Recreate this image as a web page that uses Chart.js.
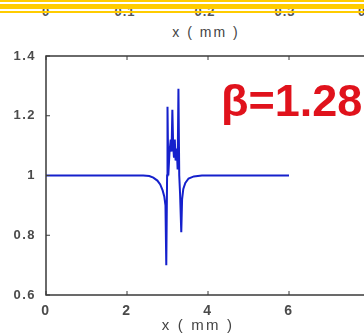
<!DOCTYPE html>
<html>
<head>
<meta charset="utf-8">
<script src="https://cdn.jsdelivr.net/npm/chart.js@4"></script>
<style>
  html, body { margin: 0; padding: 0; background: #fff; overflow: hidden; }
  body { width: 364px; height: 334px; position: relative; font-family: "Liberation Sans", Arial, sans-serif; }
  .top-tick { position: absolute; top: 4px; font-size: 13px; font-weight: bold; letter-spacing: 1px; color: #555; transform: translateX(-50%); }
  .band { position: absolute; left: 0; width: 364px; background: #ffcc00; }
  .titulo { position: absolute; transform: translateX(-50%); color: #444; white-space: nowrap; }
  #top-title { top: 24px; left: 206px; font-size: 14px; letter-spacing: 2px; }
  #bottom-title { top: 316px; left: 198px; font-size: 15px; letter-spacing: 2.2px; }
  #beta { position: absolute; left: 221px; top: 75px; font-size: 45px; font-weight: bold; color: #e0121c; white-space: nowrap; }
  #wrap { position: absolute; left: 0; top: 40px; width: 390px; height: 294px; }
</style>
</head>
<body>
<!-- bits of the plot above, mostly hidden behind the yellow bands -->
<span class="top-tick" style="left:46px">0</span>
<span class="top-tick" style="left:125px">0.1</span>
<span class="top-tick" style="left:205px">0.2</span>
<span class="top-tick" style="left:285px">0.3</span>
<span class="top-tick" style="left:362px">0</span>
<div class="band" style="top:0;height:2px"></div>
<div class="band" style="top:4px;height:5px"></div>
<div class="band" style="top:11px;height:2px"></div>
<div class="titulo" id="top-title">x ( mm )</div>

<div id="wrap"><canvas id="grafico"></canvas></div>
<div class="titulo" id="bottom-title">x ( mm )</div>
<div id="beta">β=1.28</div>

<script>
// valores
const xVals = [0, 2.4, 2.55, 2.65, 2.75, 2.82, 2.88, 2.92, 2.95, 2.97, 2.99, 3.0, 3.02, 3.05, 3.08, 3.1, 3.12, 3.14, 3.16, 3.18, 3.2, 3.23, 3.25, 3.27, 3.29, 3.31, 3.34, 3.36, 3.39, 3.44, 3.52, 3.65, 3.85, 6];
const yVals = [1.0, 1.0, 0.998, 0.993, 0.983, 0.97, 0.95, 0.93, 0.9, 0.7, 1.0, 1.23, 1.0, 1.08, 1.12, 1.08, 1.22, 1.1, 1.06, 1.12, 1.05, 1.09, 1.02, 1.29, 1.0, 0.94, 0.81, 0.92, 0.955, 0.975, 0.99, 0.997, 1.0, 1.0];
const xTicks = [0, 2, 4, 6, 8];
const yTicks = [0.6, 0.8, 1, 1.2, 1.4];

const pontos = xVals.map((x, i) => ({ x, y: yVals[i] }));

// moldura + ticks para dentro (estilo matlab)
const boxPlugin = {
  id: 'box',
  beforeDraw(c) {
    c.ctx.letterSpacing = '1.5px'; // labels mais espaçados como no original
  },
  afterDraw(c) {
    const { ctx, chartArea: a, scales } = c;
    ctx.save();
    ctx.strokeStyle = '#3a3a3a';
    ctx.lineWidth = 1.5;
    ctx.strokeRect(a.left, a.top, a.right - a.left, a.bottom - a.top);
    ctx.lineWidth = 1;
    ctx.beginPath();
    xTicks.forEach(v => {
      const px = scales.x.getPixelForValue(v);
      ctx.moveTo(px, a.bottom); ctx.lineTo(px, a.bottom - 4);
      ctx.moveTo(px, a.top); ctx.lineTo(px, a.top + 4);
    });
    yTicks.forEach(v => {
      const py = scales.y.getPixelForValue(v);
      ctx.moveTo(a.left, py); ctx.lineTo(a.left + 4, py);
    });
    ctx.stroke();
    ctx.restore();
    ctx.letterSpacing = '0px';
  }
};

const ctx = document.getElementById('grafico').getContext('2d');
new Chart(ctx, {
  type: 'line',
  data: {
    datasets: [{
      data: pontos,
      borderColor: '#1520cc',
      borderWidth: 2,
      pointRadius: 0,
      tension: 0,
      fill: false
    }]
  },
  options: {
    responsive: true,
    maintainAspectRatio: false,
    animation: false,
    layout: { padding: { top: 16, right: 20, left: 0, bottom: 0 } },
    plugins: { legend: { display: false }, tooltip: { enabled: false } },
    scales: {
      x: {
        type: 'linear',
        min: 0, max: 8,
        afterBuildTicks: s => { s.ticks = xTicks.map(v => ({ value: v })); },
        afterFit: s => { s.height = 39; },
        grid: { display: false },
        border: { display: false },
        ticks: { color: '#4a4a4a', padding: 0, font: { family: 'Liberation Sans', size: 14, weight: 'bold' }, maxRotation: 0 }
      },
      y: {
        min: 0.6, max: 1.4,
        afterBuildTicks: s => { s.ticks = yTicks.map(v => ({ value: v })); },
        afterFit: s => { s.width = 46; },
        grid: { display: false },
        border: { display: false },
        ticks: {
          color: '#4a4a4a', padding: 2, font: { family: 'Liberation Sans', size: 13, weight: 'bold' },
          callback: v => String(Number(v.toFixed(1)))
        }
      }
    }
  },
  plugins: [boxPlugin]
});
</script>
</body>
</html>
